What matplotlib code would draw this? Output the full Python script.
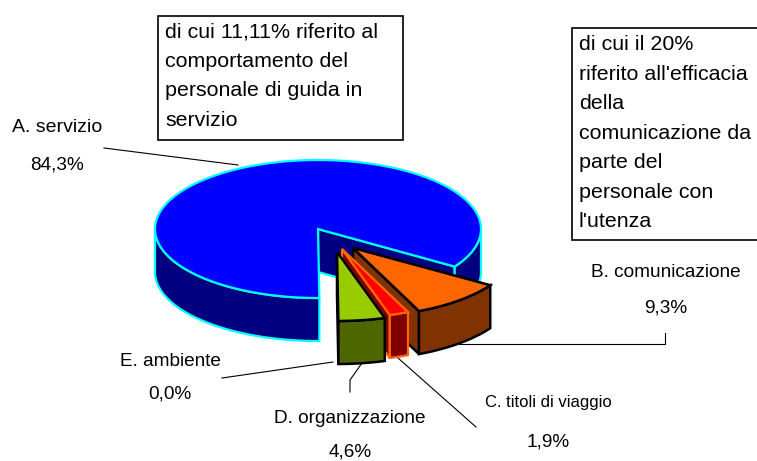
import numpy as np
import matplotlib
matplotlib.use('Agg')
import matplotlib.pyplot as plt
from matplotlib.patches import Polygon, Rectangle

# data
names = ['A. servizio', 'B. comunicazione', 'C. titoli di viaggio', 'D. organizzazione', 'E. ambiente']
values = [84.3, 9.3, 1.9, 4.6, 0.0]
value_labels = ['84,3%', '9,3%', '1,9%', '4,6%', '0,0%']
note_a = 'di cui 11,11% riferito al\ncomportamento del\npersonale di guida in\nservizio'
note_b = "di cui il 20%\nriferito all'efficacia\ndella\ncomunicazione da\nparte del\npersonale con\nl'utenza"

top_colors = ['#0000FF', '#FF6600', '#FF0000', '#99CC00', '#FFFFFF']
side_colors = ['#000080', '#803300', '#800000', '#4D6600', '#FFFFFF']
edge_colors = ['#00FFFF', '#000000', '#FF6600', '#000000', '#000000']

# layout, in image pixels
CX, CY = 318, 229
RX, RY = 163, 69
DEPTH = 43
START = -33
offsets = [(0, 0), (35, 19), (24, 20), (19, 23), (0, 0)]
label_pos = [(57, 127, 165), (666, 272, 308), (548, 402, 442), (350, 418, 452), (170, 361, 394)]
label_sizes = [14, 13.7, 12, 13.7, 13.7]
leaders = [[(104, 148), (238, 165)],
           [(459, 344), (665, 344), (665, 333)],
           [(398, 358), (476, 427)],
           [(362, 363), (350, 380), (350, 392)],
           [(333, 362), (222, 378)]]

plt.rcParams['font.family'] = ['Liberation Sans', 'DejaVu Sans']

fig = plt.figure(figsize=(7.57, 4.61), dpi=100)
ax = fig.add_axes([0, 0, 1, 1])
ax.set_xlim(0, 757)
ax.set_ylim(461, 0)
ax.axis('off')


def rim(cx, cy, a0, a1):
    t = np.radians(np.linspace(a0, a1, max(int(abs(a1 - a0)), 2) + 1))
    return np.column_stack([cx + RX * np.cos(t), cy - RY * np.sin(t)])


def wedge(a0, a1, off, top, side, edge, lw, z):
    cx, cy = CX + off[0], CY + off[1]
    down = np.array([0, DEPTH])
    apex = np.array([[cx, cy]])
    pts = rim(cx, cy, a0, a1)
    # cut face on the near side of the wedge
    face = np.vstack([apex, pts[:1], pts[:1] + down, apex + down])
    ax.add_patch(Polygon(face, fc=side, ec=edge, lw=lw, zorder=z))
    # outer wall, only the front half of the rim shows
    for lo, hi in [(-180, 0), (180, 360), (540, 720)]:
        b0, b1 = max(a0, lo), min(a1, hi)
        if b1 > b0:
            w = rim(cx, cy, b0, b1)
            ax.add_patch(Polygon(np.vstack([w, (w + down)[::-1]]), fc=side, ec=edge, lw=lw, zorder=z))
    ax.add_patch(Polygon(np.vstack([apex, pts]), fc=top, ec=edge, lw=lw, zorder=z))


# slices run counter clockwise from A: the rest of the pie comes back E, D, C, B
angle = START
for i in [0, 4, 3, 2, 1]:
    span = values[i] * 3.6
    if span > 0:
        wedge(angle, angle + span, offsets[i], top_colors[i], side_colors[i], edge_colors[i],
              1.6 if i in (0, 2) else 1.8, 2 + i)
    angle += span

for pts in leaders:
    xs, ys = zip(*pts)
    ax.plot(xs, ys, color='black', lw=0.8, zorder=1)

for name, val, (x, y1, y2), size in zip(names, value_labels, label_pos, label_sizes):
    ax.text(x, y1, name, ha='center', va='center', fontsize=size)
    ax.text(x, y2, val, ha='center', va='center', fontsize=13.7)

ax.add_patch(Rectangle((158, 16), 245, 124, fc='white', ec='black', lw=1.2, zorder=10))
ax.text(165, 76, note_a, ha='left', va='center', fontsize=15.4, linespacing=1.7, zorder=11)
ax.add_patch(Rectangle((572, 28), 200, 212, fc='white', ec='black', lw=1.2, zorder=10))
ax.text(579, 133, note_b, ha='left', va='center', fontsize=15.4, linespacing=1.7, zorder=11)

fig.savefig('out.png', dpi=100)
